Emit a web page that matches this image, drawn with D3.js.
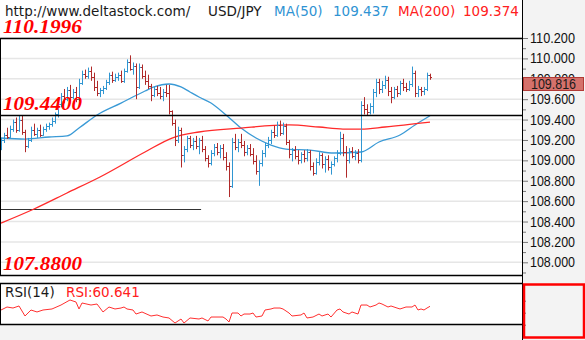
<!DOCTYPE html>
<html><head><meta charset="utf-8">
<script src="https://cdn.jsdelivr.net/npm/d3@7"></script>
<style>html,body{margin:0;padding:0;background:#fff;}svg{display:block;}</style>
</head><body>
<svg id="c" width="585" height="340"></svg>
<script>
// ---- data ----
const barOpen = [
109.15,109.20,109.25,109.23,109.31,109.38,109.30,109.40,109.28,
109.14,109.20,109.30,109.26,109.30,109.25,109.31,109.34,109.36,109.39,
109.45,109.55,109.63,109.60,109.69,109.62,109.67,109.60,
109.76,109.85,109.83,109.88,109.82,109.72,109.66,109.69,
109.71,109.77,109.84,109.79,109.82,109.84,109.78,
109.88,109.96,109.90,109.93,109.72,109.92,
109.83,109.78,109.73,109.64,109.70,109.66,109.63,109.67,109.66,
109.48,109.37,109.20,109.30,109.05,109.11,109.22,109.15,109.19,109.14,
109.20,109.11,109.02,108.97,109.07,109.13,109.08,109.12,109.03,108.94,
108.75,109.18,109.13,109.18,109.15,109.08,109.12,109.06,108.99,108.90,
108.97,109.07,109.15,109.20,109.28,109.25,109.35,109.27,109.34,
109.18,109.06,109.10,109.04,109.00,109.06,109.02,109.08,108.94,
108.88,108.98,109.05,108.96,109.01,108.93,108.96,109.02,109.07,109.22,109.08,
109.00,109.09,109.04,109.07,
109.00,109.54,109.50,109.47,109.53,109.67,109.77,109.70,
109.74,109.79,109.68,109.62,109.70,109.66,109.76,109.72,109.70,
109.75,109.86,109.66,109.70,109.68,109.70,109.84];
const barHigh = [
109.22,109.27,109.32,109.34,109.40,109.42,109.44,109.44,109.30,
109.22,109.33,109.36,109.32,109.35,109.33,109.36,109.37,109.42,109.47,
109.58,109.66,109.70,109.72,109.74,109.70,109.72,109.80,
109.88,109.89,109.91,109.92,109.86,109.78,109.71,109.73,
109.79,109.86,109.87,109.85,109.86,109.88,109.90,
109.99,110.03,109.96,109.95,109.95,109.94,
109.88,109.84,109.75,109.72,109.73,109.72,109.70,109.74,109.74,
109.49,109.40,109.33,109.32,109.14,109.24,109.24,109.22,109.24,109.22,
109.24,109.14,109.05,109.10,109.16,109.17,109.15,109.16,109.08,108.98,
109.22,109.26,109.21,109.26,109.19,109.15,109.16,109.12,109.05,109.00,
109.10,109.17,109.23,109.30,109.34,109.38,109.39,109.37,109.36,
109.20,109.12,109.14,109.10,109.08,109.10,109.11,109.10,108.98,
109.02,109.08,109.07,109.04,109.05,108.99,109.04,109.10,109.28,109.26,109.14,
109.12,109.13,109.10,109.11,
109.58,109.62,109.55,109.56,109.70,109.80,109.80,109.78,
109.83,109.82,109.72,109.72,109.73,109.78,109.80,109.76,109.78,
109.92,109.88,109.73,109.72,109.72,109.86,109.85];
const barLow = [
109.10,109.17,109.21,109.22,109.28,109.27,109.28,109.25,109.08,
109.12,109.18,109.24,109.22,109.23,109.24,109.28,109.30,109.33,109.36,
109.42,109.52,109.56,109.58,109.58,109.60,109.57,109.58,
109.74,109.80,109.80,109.78,109.68,109.63,109.62,109.65,
109.69,109.74,109.76,109.77,109.78,109.76,109.76,
109.86,109.88,109.84,109.60,109.70,109.80,
109.74,109.70,109.58,109.62,109.63,109.60,109.58,109.62,109.45,
109.34,109.14,109.17,108.93,108.98,109.08,109.12,109.10,109.11,109.06,
109.08,108.99,108.93,108.95,109.04,109.05,109.02,109.00,108.90,108.64,
108.73,109.10,109.08,109.12,109.04,109.05,109.04,108.96,108.86,108.75,
108.94,109.03,109.12,109.16,109.22,109.23,109.24,109.25,109.15,
109.02,108.99,109.01,108.96,108.97,108.98,108.99,108.90,108.85,
108.86,108.95,108.92,108.88,108.90,108.86,108.94,108.98,109.05,109.04,108.83,
108.97,109.02,109.00,108.97,
108.98,109.45,109.44,109.45,109.46,109.62,109.65,109.66,
109.70,109.63,109.56,109.60,109.62,109.64,109.68,109.67,109.68,
109.72,109.62,109.62,109.63,109.64,109.68,109.79];
const barClose = [
109.20,109.25,109.23,109.31,109.38,109.30,109.40,109.28,109.14,
109.20,109.30,109.26,109.30,109.25,109.31,109.34,109.36,109.39,109.45,
109.55,109.63,109.60,109.69,109.62,109.67,109.60,109.76,
109.85,109.83,109.88,109.82,109.72,109.66,109.69,109.71,
109.77,109.84,109.79,109.82,109.84,109.78,109.88,
109.96,109.90,109.93,109.72,109.92,109.83,
109.78,109.73,109.64,109.70,109.66,109.63,109.67,109.66,109.48,
109.37,109.20,109.30,109.05,109.11,109.22,109.15,109.19,109.14,109.20,
109.11,109.02,108.97,109.07,109.13,109.08,109.12,109.03,108.94,108.75,
109.18,109.13,109.18,109.15,109.08,109.12,109.06,108.99,108.90,108.97,
109.07,109.15,109.20,109.28,109.25,109.35,109.27,109.34,109.18,
109.06,109.10,109.04,109.00,109.06,109.02,109.08,108.94,108.88,
108.98,109.05,108.96,109.01,108.93,108.96,109.02,109.07,109.22,109.08,109.00,
109.09,109.04,109.07,109.00,
109.54,109.50,109.47,109.53,109.67,109.77,109.70,109.74,
109.79,109.68,109.62,109.70,109.66,109.76,109.72,109.70,109.75,
109.86,109.66,109.70,109.68,109.70,109.84,109.816];

const ma50Bar = [0,8,16,22,26,32,40,48,51,56,60,63,66,70,75,80,85,90,95,103,111,120,126,133,138,143];
const ma50Val = [109.219,109.209,109.229,109.239,109.317,109.445,109.562,109.680,109.720,109.749,109.720,109.670,109.621,109.562,109.445,109.317,109.219,109.150,109.111,109.100,109.072,109.082,109.180,109.249,109.347,109.437];

const ma200Bar = [0,11,22,33,48,57,66,80,96,106,114,120,128,143];
const ma200Val = [108.385,108.523,108.680,108.837,109.082,109.219,109.278,109.317,109.347,109.327,109.307,109.307,109.327,109.374];

const rsiBar = [0,2,4,6,8,10,12,14,17,20,23,25,26,27,30,32,34,36,38,40,41,42,44,45,47,50,52,54,56,58,60,61,63,66,67,69,70,73,74,75,76,77,79,80,81,83,84,85,87,88,90,91,93,94,96,97,100,101,102,104,106,107,109,110,112,113,114,116,117,119,120,122,123,125,126,127,129,130,132,133,135,137,138,139,140,141,142,143];
const rsiVal = [54.5,59.5,57.8,61.2,44.5,54.5,51.2,54.5,56.2,62.8,71.2,67.8,56.2,66.2,62.8,64.5,51.2,59.5,56.2,57.8,59.5,56.2,54.5,47.8,51.2,44.5,46.2,42.8,41.2,32.8,39.5,32.8,41.2,39.5,41.2,36.2,42.8,42.8,42.8,39.5,34.5,49.5,49.5,44.5,47.8,47.8,49.5,42.8,44.5,54.5,56.2,57.8,57.8,56.2,49.5,44.5,46.2,49.5,41.2,42.8,47.8,44.5,47.8,42.8,54.5,56.2,51.2,47.8,51.2,47.8,62.8,62.8,59.5,62.8,66.2,64.5,59.5,61.2,57.8,56.2,59.5,59.5,62.8,54.5,56.2,54.5,57.8,60.641];

const yTickValues = [108.0,108.2,108.4,108.6,108.8,109.0,109.2,109.4,109.6,109.8,110.0,110.2];
const yMinorValues = [107.9,108.1,108.3,108.5,108.7,108.9,109.1,109.3,109.5,109.7,109.9,110.1];
const rsiTickValues = [70,50,30,10];
const levelValues = [110.1996,109.44,107.88];
const levelLabels = ["110.1996","109.4400","107.8800"];
const supportValue = 108.523;
const supportEndBar = 66.7;
const lastPrice = 109.816;
const titleParts = [
  {t:"http://www.deltastock.com/", c:"#1a1a1a", x:5},
  {t:"USD/JPY", c:"#1a1a1a", x:208},
  {t:"MA(50)", c:"#2f93d3", x:274},
  {t:"109.437", c:"#2f93d3", x:333},
  {t:"MA(200)", c:"#ff2020", x:398},
  {t:"109.374", c:"#ff2020", x:463}];
const rsiTitleParts = [
  {t:"RSI(14)", c:"#1a1a1a", x:5},
  {t:"RSI:60.641", c:"#ff2020", x:66}];

// ---- drawing ----
const svg = d3.select("#c");
const plotR = 522;
const x = d3.scaleLinear().domain([0, barClose.length - 1]).range([1, 430]);
const y = d3.scaleLinear().domain([108.0, 110.2]).range([262.3, 38]);
const yR = d3.scaleLinear().domain([10, 70]).range([336.7, 300.7]);
const px = i => Math.round(x(i));
const py = v => Math.round(y(v)) + 0.5;

svg.append("rect").attr("width",585).attr("height",340).attr("fill","#fff");
svg.append("rect").attr("x",plotR+1).attr("y",0).attr("width",585-plotR-1).attr("height",340).attr("fill","#f3f3f3");
svg.append("rect").attr("x",0).attr("y",325).attr("width",plotR+1).attr("height",15).attr("fill","#f3f3f3");

const defs = svg.append("defs");
defs.append("clipPath").attr("id","mainClip").append("rect").attr("x",0).attr("y",0).attr("width",plotR).attr("height",275);
defs.append("clipPath").attr("id","rsiClip").append("rect").attr("x",0).attr("y",284).attr("width",plotR).attr("height",40);

// gridlines
svg.append("g").selectAll("line").data(yTickValues).join("line")
  .attr("x1",1).attr("x2",plotR).attr("y1",d=>y(d)).attr("y2",d=>y(d))
  .attr("stroke","#e6e6e6").attr("stroke-width",1.5);

const main = svg.append("g").attr("clip-path","url(#mainClip)");

// support line
main.append("line").attr("x1",0).attr("x2",x(supportEndBar))
  .attr("y1",py(supportValue)).attr("y2",py(supportValue))
  .attr("stroke","#333").attr("stroke-width",1);

// MA lines
const idx50 = d3.range(ma50Bar.length);
main.append("path").datum(idx50)
  .attr("d", d3.line().x(k=>x(ma50Bar[k])).y(k=>y(ma50Val[k])).curve(d3.curveMonotoneX))
  .attr("fill","none").attr("stroke","#3a9ad6").attr("stroke-width",1.3);
const idx200 = d3.range(ma200Bar.length);
main.append("path").datum(idx200)
  .attr("d", d3.line().x(k=>x(ma200Bar[k])).y(k=>y(ma200Val[k])).curve(d3.curveMonotoneX))
  .attr("fill","none").attr("stroke","#ff2a2a").attr("stroke-width",1.3);

// OHLC bars
main.append("g").selectAll("path").data(d3.range(barClose.length)).join("path")
  .attr("d", i => {
    const X = px(i);
    return `M${X+0.5},${y(barHigh[i])}V${y(barLow[i])}M${X-1},${py(barOpen[i])}H${X}M${X+1},${py(barClose[i])}H${X+2}`;
  })
  .attr("fill","none").attr("stroke-width",1)
  .attr("stroke", i => barClose[i] >= barOpen[i] ? "#2f96d2" : "#b02a2a");

// horizontal level lines
svg.append("g").selectAll("line").data(levelValues).join("line")
  .attr("x1",0).attr("x2",plotR).attr("y1",d=>py(d)).attr("y2",d=>py(d))
  .attr("stroke","#000").attr("stroke-width",1.5);
svg.append("g").selectAll("text").data(levelValues).join("text")
  .attr("x",3).attr("y",d=>py(d)-6)
  .attr("font-family","'Liberation Serif','Times New Roman',serif")
  .attr("font-weight","bold").attr("font-style","italic").attr("font-size",18)
  .attr("fill","#ff0000").attr("textLength",79).attr("lengthAdjust","spacingAndGlyphs")
  .text((d,k)=>levelLabels[k]);

// title
svg.append("g").selectAll("text").data(titleParts).join("text")
  .attr("x",d=>d.x).attr("y",15.5).attr("fill",d=>d.c)
  .attr("font-family","'DejaVu Sans',sans-serif").attr("font-size",13.5)
  .text(d=>d.t);

// right axis
const axis = d3.axisRight(y).tickValues(yTickValues).tickFormat(d3.format(".3f")).tickSize(6).tickPadding(2);
const ag = svg.append("g").attr("transform",`translate(${plotR},0)`).call(axis);
ag.select(".domain").remove();
ag.selectAll(".tick line").attr("stroke","#777");
ag.selectAll(".tick text").attr("font-family","'Liberation Sans',Arial,sans-serif")
  .attr("font-size",14).attr("fill","#111").attr("textLength",45).attr("lengthAdjust","spacingAndGlyphs");
const minorAxis = d3.axisRight(y).tickValues(yMinorValues).tickFormat("").tickSize(4);
const mg = svg.append("g").attr("transform",`translate(${plotR},0)`).call(minorAxis);
mg.select(".domain").remove();
mg.selectAll(".tick line").attr("stroke","#777");

// last price box
const lpY = Math.round(y(lastPrice));
svg.append("rect").attr("x",plotR+1.5).attr("y",lpY+0.5).attr("width",60).attr("height",13)
  .attr("fill","#d5716b").attr("stroke","#b13a36").attr("stroke-width",1);
svg.append("text").attr("x",plotR+31.5).attr("y",lpY+12).attr("text-anchor","middle")
  .attr("font-family","'Liberation Sans',Arial,sans-serif").attr("font-size",14).attr("fill","#1a1a1a")
  .attr("textLength",45).attr("lengthAdjust","spacingAndGlyphs")
  .text(d3.format(".3f")(lastPrice));

// RSI panel
svg.append("line").attr("x1",0).attr("x2",plotR).attr("y1",283.5).attr("y2",283.5).attr("stroke","#000").attr("stroke-width",1.5);
svg.append("line").attr("x1",0).attr("x2",plotR).attr("y1",324.5).attr("y2",324.5).attr("stroke","#000").attr("stroke-width",1.5);
const idxR = d3.range(rsiBar.length);
svg.append("g").attr("clip-path","url(#rsiClip)").append("path").datum(idxR)
  .attr("d", d3.line().x(k=>x(rsiBar[k])).y(k=>yR(rsiVal[k])))
  .attr("fill","none").attr("stroke","#ff3030").attr("stroke-width",1);
svg.append("g").selectAll("text").data(rsiTitleParts).join("text")
  .attr("x",d=>d.x).attr("y",297).attr("fill",d=>d.c)
  .attr("font-family","'DejaVu Sans',sans-serif").attr("font-size",13.5)
  .text(d=>d.t);
const rAxis = d3.axisRight(yR).tickValues(rsiTickValues).tickFormat("").tickSize(4);
const rg = svg.append("g").attr("transform",`translate(${plotR},0)`).call(rAxis);
rg.select(".domain").remove();
rg.selectAll(".tick line").attr("stroke","#777");

// borders
svg.append("line").attr("x1",plotR+0.5).attr("x2",plotR+0.5).attr("y1",0).attr("y2",340).attr("stroke","#000").attr("stroke-width",1);
svg.append("line").attr("x1",0.5).attr("x2",0.5).attr("y1",38).attr("y2",276).attr("stroke","#000").attr("stroke-width",1);
svg.append("line").attr("x1",0.5).attr("x2",0.5).attr("y1",283).attr("y2",325).attr("stroke","#000").attr("stroke-width",1);

// red box bottom right
svg.append("rect").attr("x",plotR+2).attr("y",284.5).attr("width",60).attr("height",53)
  .attr("fill","none").attr("stroke","#ff0000").attr("stroke-width",2.5);
</script>
</body></html>
